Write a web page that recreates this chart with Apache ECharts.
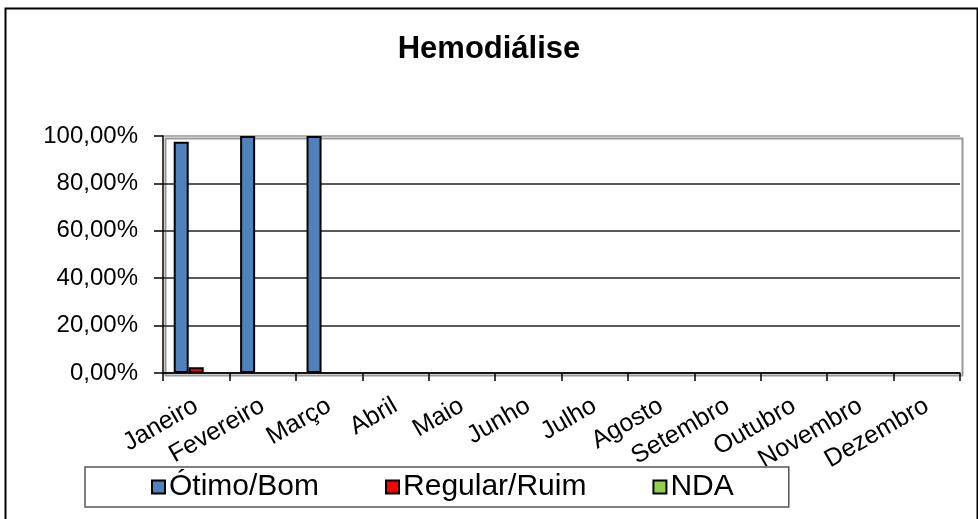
<!DOCTYPE html>
<html>
<head>
<meta charset="utf-8">
<script src="https://cdn.jsdelivr.net/npm/echarts@6/dist/echarts.min.js"></script>
<style>
html,body{margin:0;padding:0;background:#fff;}
#chart{width:978px;height:519px;}
</style>
</head>
<body>
<div id="chart"></div>
<script>
const titleText = 'Hemodiálise';
const categories = ['Janeiro','Fevereiro','Março','Abril','Maio','Junho','Julho','Agosto','Setembro','Outubro','Novembro','Dezembro'];
const seriesNames = ['Ótimo/Bom','Regular/Ruim','NDA'];
const otimoBom = [97.62, 100, 100, null, null, null, null, null, null, null, null, null];
const regularRuim = [2.38, null, null, null, null, null, null, null, null, null, null, null];
const nda = [null, null, null, null, null, null, null, null, null, null, null, null];
const colors = ['#4f81bd', '#ff0000', '#92d050'];

const chart = echarts.init(document.getElementById('chart'));
const FONT = '"Liberation Sans", Arial, sans-serif';
const dataSets = [otimoBom, regularRuim, nda];

chart.setOption({
  animation: false,
  backgroundColor: '#fff',
  textStyle: {fontFamily: FONT, color: '#000'},
  title: {
    text: titleText, left: 'center', top: 29,
    textStyle: {fontFamily: FONT, fontWeight: 'bold', fontSize: 31, color: '#000'}
  },
  graphic: [{
    type: 'rect', left: 3, top: 6, silent: true,
    shape: {width: 972, height: 530},
    style: {fill: 'none', stroke: '#000', lineWidth: 2}
  }, {
    type: 'rect', left: 163, top: 136, silent: true, z: 0,
    shape: {width: 797, height: 237},
    style: {fill: 'none', stroke: '#999', lineWidth: 2}
  }],
  legend: {
    data: seriesNames,
    left: 85, top: 467,
    orient: 'horizontal',
    itemWidth: 13, itemHeight: 13, itemGap: 66,
    padding: [5, 55, 5, 66],
    borderColor: '#555', borderWidth: 1.5,
    icon: 'rect',
    textStyle: {fontFamily: FONT, fontSize: 30, lineHeight: 30, color: '#000', padding: [0,0,0,-1]}
  },
  grid: {left: 163, right: 18, top: 136, bottom: 146, containLabel: false},
  xAxis: {
    type: 'category', data: categories,
    axisLine: {show: true, lineStyle: {color: '#000', width: 1.5}},
    axisTick: {show: true, alignWithLabel: false, length: 8, lineStyle: {color: '#000', width: 1.5}},
    axisLabel: {rotate: 30, fontFamily: FONT, fontSize: 25, color: '#000', margin: 31, interval: 0},
    splitLine: {show: false}
  },
  yAxis: {
    type: 'value', min: 0, max: 100, interval: 20,
    axisLine: {show: true, lineStyle: {color: '#000', width: 1.5}},
    axisTick: {show: true, length: 9, lineStyle: {color: '#000', width: 1.5}},
    axisLabel: {
      fontFamily: FONT, fontSize: 24, color: '#000', margin: 25,
      formatter: v => v.toFixed(2).replace('.', ',') + '%'
    },
    splitLine: {show: true, lineStyle: {color: ['#222','#222','#222','#222','#222','#999'], width: 1.5}}
  },
  series: seriesNames.map((n, i) => ({
    name: n, type: 'bar', data: dataSets[i],
    barWidth: 15, barGap: '0%',
    itemStyle: {color: colors[i], borderColor: '#000', borderWidth: 2}
  }))
});
</script>
</body>
</html>
